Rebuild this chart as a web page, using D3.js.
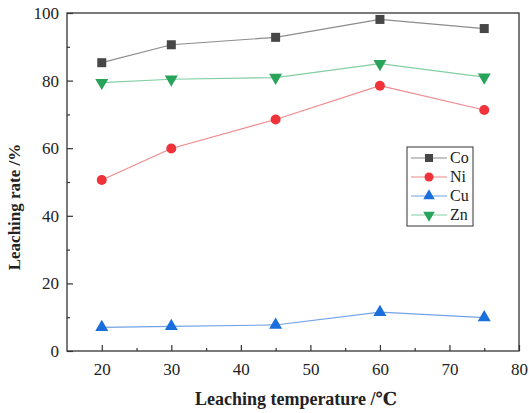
<!DOCTYPE html>
<html>
<head>
<meta charset="utf-8">
<script src="https://cdn.jsdelivr.net/npm/d3@7"></script>
<style>
  body { margin: 0; background: #fff; }
  text { font-family: "Liberation Serif", "DejaVu Serif", serif; fill: #222; }
</style>
</head>
<body>
<div id="container"></div>
<script>
var temps = [20, 30, 45, 60, 75];
var co = [85.3, 90.6, 92.8, 98.1, 95.4];
var ni = [50.6, 59.9, 68.5, 78.5, 71.3];
var cu = [7.0, 7.3, 7.7, 11.5, 9.9];
var zn = [79.4, 80.4, 80.9, 85.0, 81.0];
var xTicks = [20, 30, 40, 50, 60, 70, 80];
var yTicks = [0, 20, 40, 60, 80, 100];

var series = [
  {name: "Co", values: co, marker: "#474747", line: "#8c8c8c", shape: "square"},
  {name: "Ni", values: ni, marker: "#f0323a", line: "#f08a8c", shape: "circle"},
  {name: "Cu", values: cu, marker: "#1b6fdc", line: "#72a3e6", shape: "up"},
  {name: "Zn", values: zn, marker: "#27a35a", line: "#82cfa2", shape: "down"}
];

var serif = "'Liberation Serif', 'DejaVu Serif', serif";
var width = 529, height = 413;
var m = {left: 67, top: 13, right: 10, bottom: 62};
var svg = d3.select("#container").append("svg").attr("width", width).attr("height", height);

var x = d3.scaleLinear().domain([15, 80]).range([m.left, width - m.right]);
var y = d3.scaleLinear().domain([0, 100]).range([height - m.bottom, m.top]);

// frame
svg.append("rect")
  .attr("x", m.left).attr("y", m.top)
  .attr("width", width - m.right - m.left).attr("height", height - m.bottom - m.top)
  .attr("fill", "none").attr("stroke", "#333").attr("stroke-width", 1.3);

// x axis, ticks pointing inward
var xAxis = svg.append("g").attr("transform", "translate(0," + (height - m.bottom) + ")");
xAxis.call(d3.axisBottom(x).tickValues(xTicks).tickSizeInner(-6).tickSizeOuter(0).tickPadding(12));
xAxis.append("g").call(d3.axisBottom(x).tickValues([25, 35, 45, 55, 65, 75]).tickSizeInner(-3).tickSizeOuter(0).tickFormat(""));
xAxis.selectAll("path.domain").remove();
xAxis.selectAll("line").attr("stroke", "#333").attr("stroke-width", 1.2);
xAxis.attr("font-family", serif);
xAxis.selectAll("text").style("font-family", serif).style("font-size", "17px").attr("fill", "#333");

var yAxis = svg.append("g").attr("transform", "translate(" + m.left + ",0)");
yAxis.call(d3.axisLeft(y).tickValues(yTicks).tickSizeInner(-6).tickSizeOuter(0).tickPadding(8));
yAxis.append("g").call(d3.axisLeft(y).tickValues([10, 30, 50, 70, 90]).tickSizeInner(-3).tickSizeOuter(0).tickFormat(""));
yAxis.selectAll("path.domain").remove();
yAxis.selectAll("line").attr("stroke", "#333").attr("stroke-width", 1.2);
yAxis.attr("font-family", serif);
yAxis.selectAll("text").style("font-family", serif).style("font-size", "17px").attr("fill", "#333");

// titles
svg.append("text").attr("x", (m.left + width - m.right) / 2 + 3).attr("y", 405)
  .attr("text-anchor", "middle").style("font-size", "18px").style("font-weight", "bold")
  .text("Leaching temperature /℃");
svg.append("text").attr("transform", "translate(20," + ((m.top + height - m.bottom) / 2 + 25) + ") rotate(-90)")
  .attr("text-anchor", "middle").style("font-size", "17px").style("font-weight", "bold")
  .text("Leaching rate /%");

function drawMarker(g, s, cx, cy, r) {
  if (s.shape == "square") {
    g.append("rect").attr("x", cx - r).attr("y", cy - r).attr("width", 2 * r).attr("height", 2 * r).attr("fill", s.marker);
  } else if (s.shape == "circle") {
    g.append("circle").attr("cx", cx).attr("cy", cy).attr("r", r + 0.5).attr("fill", s.marker);
  } else {
    var sym = d3.symbol().type(d3.symbolTriangle).size(r * r * 3.6);
    g.append("path").attr("d", sym())
      .attr("transform", "translate(" + cx + "," + cy + ")" + (s.shape == "down" ? " rotate(180)" : ""))
      .attr("fill", s.marker);
  }
}

var line = d3.line().x(function(d) { return x(d[0]); }).y(function(d) { return y(d[1]); });
series.forEach(function(s) {
  var pts = temps.map(function(t, i) { return [t, s.values[i]]; });
  svg.append("path").datum(pts).attr("d", line).attr("fill", "none").attr("stroke", s.line).attr("stroke-width", 1.2);
  var g = svg.append("g");
  pts.forEach(function(p) { drawMarker(g, s, x(p[0]), y(p[1]), 4.5); });
});

// legend
var lg = svg.append("g").attr("transform", "translate(407,147)");
lg.append("rect").attr("width", 66).attr("height", 79).attr("fill", "#fff").attr("stroke", "#333").attr("stroke-width", 1);
series.forEach(function(s, i) {
  var cy = 11 + i * 19;
  lg.append("line").attr("x1", 4).attr("x2", 40).attr("y1", cy).attr("y2", cy).attr("stroke", s.line).attr("stroke-width", 1.2);
  drawMarker(lg, s, 22, cy, 4);
  lg.append("text").attr("x", 43).attr("y", cy + 5).style("font-size", "16px").text(s.name);
});
</script>
</body>
</html>
